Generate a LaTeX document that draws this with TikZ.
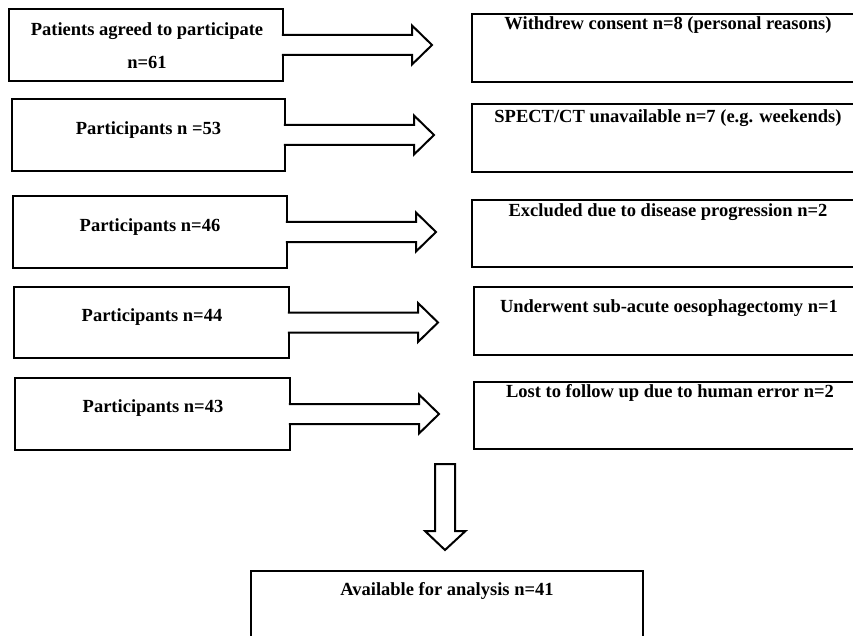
\documentclass[tikz,border=0pt]{standalone}
\usepackage{fontspec}
\setmainfont{Liberation Serif}
\usetikzlibrary{calc}
\begin{document}
\begin{tikzpicture}[x=1pt,y=-1pt,
  box/.style={draw,line width=2pt,anchor=north west,inner sep=0pt,outer sep=0pt},
  txt/.style={font=\fontsize{18.5}{33}\selectfont\bfseries,inner sep=0pt,align=center},
  fatarrow/.style={fill=white,draw,line width=2pt,line join=miter}]
\useasboundingbox (0,0) rectangle (853,636);
\clip (0,0) rectangle (853,636);
% left boxes
\node[box,minimum width=274pt,minimum height=72pt] (L1) at (9,9) {};
\node[box,minimum width=273pt,minimum height=72pt] (L2) at (12,99) {};
\node[box,minimum width=274pt,minimum height=72pt] (L3) at (13,196) {};
\node[box,minimum width=275pt,minimum height=71pt] (L4) at (14,287) {};
\node[box,minimum width=275pt,minimum height=72pt] (L5) at (15,378) {};
% right boxes
\node[box,minimum width=408pt,minimum height=68pt] (R1) at (472,14) {};
\node[box,minimum width=408pt,minimum height=68pt] (R2) at (472,104) {};
\node[box,minimum width=408pt,minimum height=67pt] (R3) at (472,200) {};
\node[box,minimum width=406pt,minimum height=68pt] (R4) at (474,287) {};
\node[box,minimum width=406pt,minimum height=67pt] (R5) at (474,382) {};
% bottom box
\node[box,minimum width=392pt,minimum height=90pt] (B) at (251,571) {};
% texts
\node[txt] (L1t) at (147,45.5) {Patients agreed to participate\\n=61};
\node[txt] (L2t) at (148.5,130) {Participants n =53};
\node[txt] (L3t) at (150,227) {Participants n=46};
\node[txt] (L4t) at (152,317) {Participants n=44};
\node[txt] (L5t) at (153,408) {Participants n=43};
\node[txt] (R1t) at (668,25) {Withdrew consent n=8 (personal reasons)};
\node[txt] (R2t) at (668,118) {SPECT/CT unavailable n=7 (e.g. weekends)};
\node[txt] (R3t) at (668,212) {Excluded due to disease progression n=2};
\node[txt] (R4t) at (669,308) {Underwent sub-acute oesophagectomy n=1};
\node[txt] (R5t) at (670,393) {Lost to follow up due to human error n=2};
\node[txt] (Bt) at (447,591) {Available for analysis n=41};
% block arrows
\foreach \b in {L1,L2,L3,L4,L5}{
  \path[fatarrow] ($(\b.east)+(-1.2,-10)$) -- ++(130.2,0) -- ++(0,-9.5) -- ++(20,19.5)
     -- ++(-20,19.5) -- ++(0,-9.5) -- ++(-130.2,0);
}
\path[fatarrow] ($(B.north)+(-12,-107)$) -- ++(0,67) -- ++(-10,0) -- ++(20,19)
   -- ++(20.5,-19) -- ++(-10.5,0) -- ++(0,-67) -- cycle;
\end{tikzpicture}
\end{document}
